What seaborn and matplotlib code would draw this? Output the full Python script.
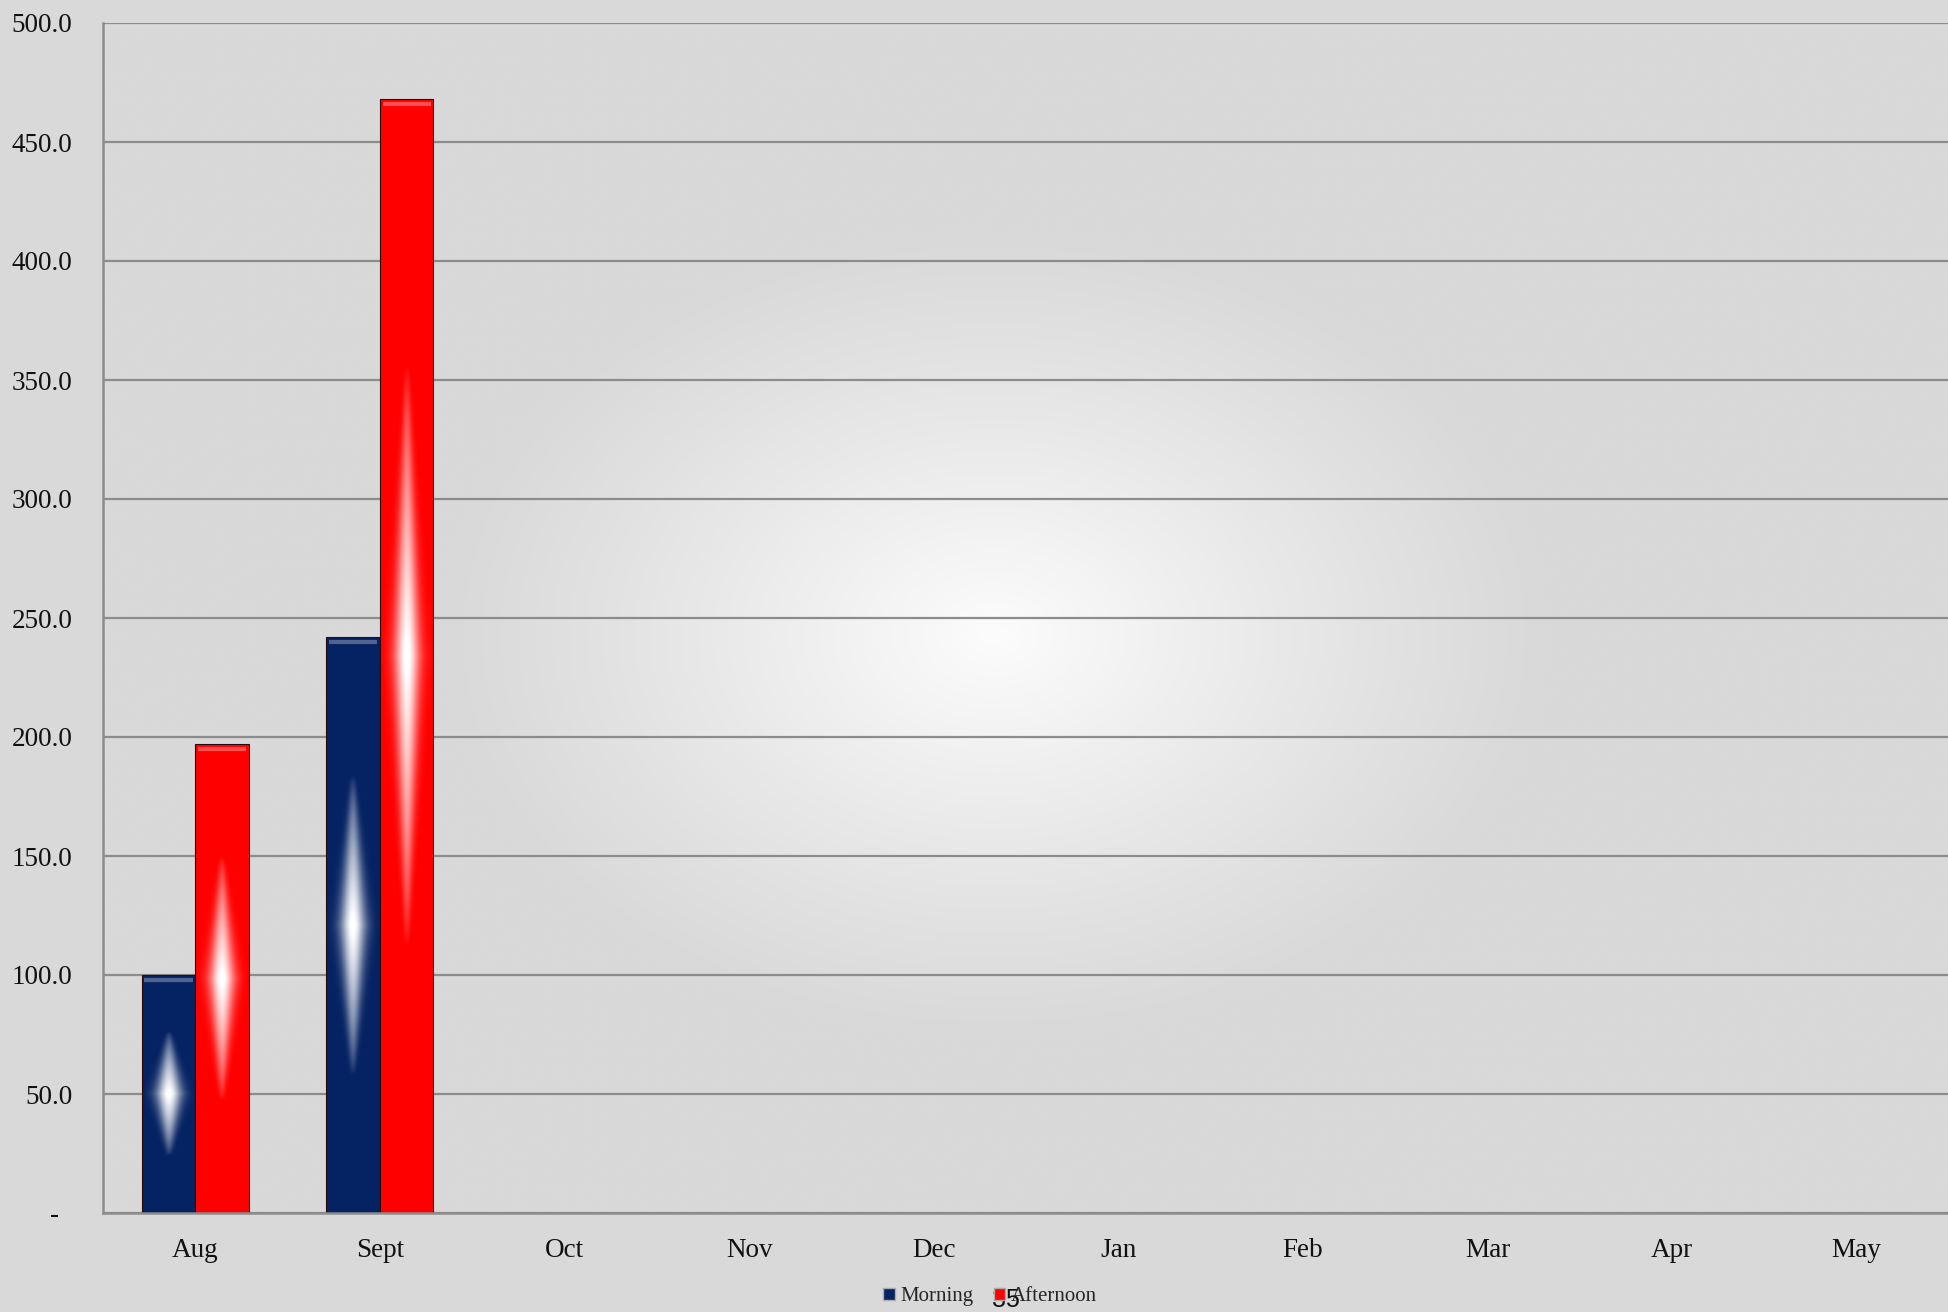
import numpy as np
import pandas as pd
import matplotlib
matplotlib.use("Agg")
import matplotlib.pyplot as plt
from matplotlib.patches import Patch
import seaborn as sns

# ---- data ----
months = ["Aug", "Sept", "Oct", "Nov", "Dec", "Jan", "Feb", "Mar", "Apr", "May"]
data_months = ["Aug", "Sept"]
morning = [100, 242]
afternoon = [197, 468]
series = ["Morning", "Afternoon"]
colors = {"Morning": "#052262", "Afternoon": "#ff0000"}
yticks = [0, 50, 100, 150, 200, 250, 300, 350, 400, 450, 500]
ytick_labels = ["-  "] + [f"{v:.1f}" for v in yticks[1:]]

df = pd.DataFrame({
    "month": data_months * 2,
    "series": ["Morning"] * len(morning) + ["Afternoon"] * len(afternoon),
    "value": morning + afternoon,
})

sns.set_theme(style="white")
plt.rcParams["font.family"] = ["Liberation Serif", "DejaVu Serif"]

bg = "#d9d9d9"
fig = plt.figure(figsize=(19.49, 13.12), dpi=100, facecolor=bg)
ax = fig.add_axes([103 / 1949, 1 - 1213 / 1312, 1 - 103 / 1949, (1213 - 23) / 1312])
ax.set_facecolor(bg)

# radial glow background
W, H = 600, 400
xx, yy = np.meshgrid(np.linspace(0, 1, W), np.linspace(0, 1, H))
cx, cy = 0.483, 0.486
r = np.sqrt(((xx - cx) / 0.30) ** 2 + ((yy - cy) / 0.34) ** 2)
t = np.clip(1 - r, 0, 1) ** 1.1
base = np.array([0xd9, 0xd9, 0xd9]) / 255
top = np.array([0xfc, 0xfc, 0xfc]) / 255
img = base[None, None, :] * (1 - t[..., None]) + top[None, None, :] * t[..., None]
ax.imshow(img, extent=[0, 1, 0, 1], transform=ax.transAxes, origin="lower",
          aspect="auto", zorder=0, interpolation="bilinear")

sns.barplot(data=df, x="month", y="value", hue="series", order=months,
            hue_order=series, palette=colors, width=0.58, gap=0,
            legend=False, ax=ax, saturation=1, edgecolor="#2a0a0a",
            linewidth=0.8, zorder=2)

# glossy highlight on each bar
nx, ny = 80, 240
u, v = np.meshgrid(np.linspace(-1, 1, nx), np.linspace(-1, 1, ny))
vprof = np.clip(1 - np.abs(v) / 0.52, 0, 1)
halfw = 0.15 + 0.55 * vprof
alpha = np.exp(-(u / halfw) ** 2 * 2.2) * vprof ** 0.7
hl = np.ones((ny, nx, 4))
hl[..., 3] = np.clip(alpha * 1.05, 0, 1)
for p in ax.patches:
    h = p.get_height()
    if not np.isfinite(h) or h <= 0:
        continue
    x0 = p.get_x()
    w = p.get_width()
    ax.imshow(hl, extent=[x0, x0 + w, 0, h], origin="lower", aspect="auto",
              zorder=3, interpolation="bilinear")
    # subtle top bevel
    ax.plot([x0 + w * 0.05, x0 + w * 0.95], [h - 2, h - 2], color="white",
            alpha=0.3, lw=3, zorder=3, solid_capstyle="butt")

ax.set_xlim(-0.5, len(months) - 0.5)
ax.set_ylim(0, 500)
ax.set_yticks(yticks)
ax.set_yticklabels(ytick_labels)
ax.set_xlabel("")
ax.set_ylabel("")
ax.grid(axis="y", color="#8c8c8c", linewidth=1.6)
ax.grid(axis="x", visible=False)
ax.set_axisbelow(True)
for s in ["top", "right"]:
    ax.spines[s].set_visible(False)
for s in ["left", "bottom"]:
    ax.spines[s].set_color("#8c8c8c")
    ax.spines[s].set_linewidth(1.8)
    ax.spines[s].set_zorder(4)
ax.tick_params(axis="y", length=0, pad=22, labelsize=19.5, labelcolor="#111111")
ax.tick_params(axis="x", length=0, pad=18, labelsize=19.5, labelcolor="#111111")

handles = [Patch(facecolor=colors[s], edgecolor="#aaaaaa", label=s) for s in series]
fig.legend(handles=handles, loc="center", bbox_to_anchor=(0.508, 0.0115), ncol=2,
           frameon=False, fontsize=15, handlelength=0.55, handleheight=0.55,
           handletextpad=0.25, columnspacing=1.0)

fig.text(0.516, 0.009, "35", ha="center", va="center", fontsize=18,
         family=["Liberation Sans", "DejaVu Sans"], color="#111111")

fig.savefig("out.png", dpi=100, facecolor=bg)
